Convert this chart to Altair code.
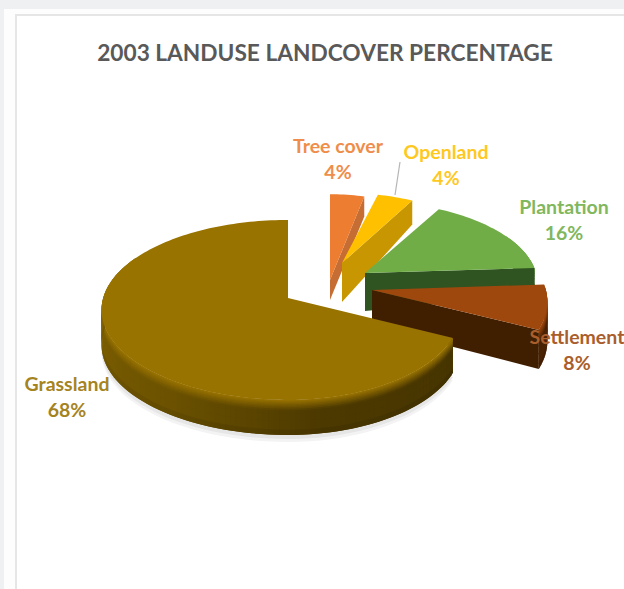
import math
import altair as alt
import pandas as pd

# Land use shares for 2003, listed clockwise from twelve o'clock backwards
CATEGORIES = ["Tree cover", "Openland", "Plantation", "Settlement", "Grassland"]
PERCENTS = [4, 4, 16, 8, 68]
TOP_COLORS = ["#ed7d31", "#ffc000", "#70ad47", "#9e480e", "#997300"]
CUT_COLORS = ["#c56d32", "#c79600", "#2f5321", "#401f00", "#4a3700"]
WALL_COLORS = ["#b55f26", "#b98c00", "#38602a", "#4a2204", "#6a5000"]

TITLE = "2003 LANDUSE LANDCOVER PERCENTAGE"
W, H = 624, 589

# Tilted-disc projection of the pie
RX, RY, PERSPECTIVE = 183.0, 88.4, 0.133

# Exploded position and scale of each wedge
LAYOUT = {
    "Tree cover": dict(ax=330, ay=280, sx=.85, sr=.85, sy=1.10, t=20, t_out=20),
    "Openland": dict(ax=342, ay=263, sx=.90, sr=.89, sy=.90, t=39, t_out=24),
    "Plantation": dict(ax=365, ay=273, sx=.95, sr=.935, sy=.92, t=38, t_out=27),
    "Settlement": dict(ax=372, ay=290, sx=.95, sr=.95, sy=1.0, t=36, t_out=39),
    "Grassland": dict(ax=288, ay=298, sx=1.01, sr=.94, sy=1.0, t=35, t_out=35),
}
LABEL_POS = {
    "Tree cover": (338, 147),
    "Openland": (446, 153),
    "Plantation": (564, 208),
    "Settlement": (577, 338),
    "Grassland": (67, 385),
}
LABEL_LINE_GAP = 26


def hex_rgb(c):
    return tuple(int(c[i:i + 2], 16) for i in (1, 3, 5))


def mix(a, b, f):
    ra, rb = hex_rgb(a), hex_rgb(b)
    return "#%02x%02x%02x" % tuple(round(x + (y - x) * f) for x, y in zip(ra, rb))


def rim(theta, lay):
    s, c = math.sin(math.radians(theta)), math.cos(math.radians(theta))
    w = 1 + PERSPECTIVE * c
    scale = lay["sx"] if s < 0 else lay["sr"]
    return lay["ax"] + RX * scale * s / w, lay["ay"] - RY * lay["sy"] * c / w


polys = []


def add(points, fill):
    polys.append((len(polys), points, fill))


def wall_shade(name, theta, wall):
    # Grassland's outer wall darkens steadily towards the lower right
    if name != "Grassland":
        return wall
    stops = [(115, "#473500"), (170, "#4c3900"), (215, "#6c5200"), (270, "#806100"), (300, "#8a6800")]
    for (t0, c0), (t1, c1) in zip(stops, stops[1:]):
        if theta <= t1:
            return mix(c0, c1, max(0, (theta - t0) / (t1 - t0)))
    return stops[-1][1]


def draw_wedge(name, start, end, top, cut, wall):
    lay = LAYOUT[name]
    step = 1.5
    n = max(2, int(math.ceil((end - start) / step)))
    thetas = [start + (end - start) * i / n for i in range(n + 1)]
    ax, ay, t, t_out = lay["ax"], lay["ay"], lay["t"], lay["t_out"]

    # Bevelled outer wall; each cell overlaps the next so no seams show
    bands = [0, .03, .06, .09, .12, .16, .2, .25, .3, .4, .6, .85, 1]
    visible = [th for th in thetas if 60 <= th <= 300]
    for a, b in zip(visible, visible[1:]):
        base = wall_shade(name, (a + b) / 2, wall)
        far = min(visible[-1], b + step)
        (xa, ya), (xb, yb) = rim(a, lay), rim(far, lay)
        for f0, f1 in zip(bands, bands[1:]):
            blend = min(1, (f0 + f1) / 2 / .3)
            colour = mix(top, base, blend)
            if f0 >= .85:
                colour = mix(base, "#000000", .08)
            low = f1 if f1 == 1 else f1 + .03
            add([(xa, ya + t_out * f0), (xb, yb + t_out * f0),
                 (xb, yb + t_out * low), (xa, ya + t_out * low)], colour)

    # Flat face left by pulling the wedge out of the pie
    if name != "Grassland":
        ox, oy = rim(end, lay)
        add([(ax, ay), (ox, oy), (ox, oy + t_out), (ax, ay + t)], cut)

    # Top surface
    add([(ax, ay)] + [rim(th, lay) for th in thetas], top)


# Page, card and its border
add([(0, 0), (W, 0), (W, H), (0, H)], "#eff0f2")
add([(4, 9), (W, 9), (W, H), (4, H)], "#fdfdfd")
add([(15, 14), (W, 14), (W, H), (15, H)], "#e6e6e6")
add([(17, 16), (W, 16), (W, H), (17, H)], "#ffffff")

# Wedges go back to front, walking the angle from twelve o'clock clockwise
angle = 0.0
spans = {}
for name, pct in zip(CATEGORIES, PERCENTS):
    spans[name] = (angle, angle + pct * 3.6)
    angle += pct * 3.6

# Faint contact shadow below the big wedge is added just before it
for i, name in enumerate(CATEGORIES):
    start, end = spans[name]
    if name == "Grassland":
        lay = LAYOUT[name]
        front = [start + (300 - start) * k / 60 for k in range(61)]
        for off, shade in ((7, "#f3f3f3"), (4, "#e6e6e6")):
            add([(rim(th, lay)[0], rim(th, lay)[1] + lay["t"] + off) for th in front], shade)
    draw_wedge(name, start, end, TOP_COLORS[i], CUT_COLORS[i], WALL_COLORS[i])

rows = []
for pid, points, fill in polys:
    for j, (px, py) in enumerate(points):
        rows.append(dict(pid=pid, i=j, px=round(px, 2), py=round(py, 2), fill=fill))
    px, py = points[0]
    rows.append(dict(pid=pid, i=len(points), px=round(px, 2), py=round(py, 2), fill=fill))
shapes = pd.DataFrame(rows)
alt.data_transformers.disable_max_rows()

x_scale = alt.Scale(domain=[0, W], range=[0, W], nice=False, zero=False)
y_scale = alt.Scale(domain=[0, H], range=[0, H], nice=False, zero=False)

shape_layer = alt.Chart(shapes).mark_line(filled=True, strokeWidth=0, interpolate="linear").encode(
    x=alt.X("px:Q", scale=x_scale, axis=None),
    y=alt.Y("py:Q", scale=y_scale, axis=None),
    detail="pid:N",
    order=alt.Order("i:Q"),
    fill=alt.Fill("fill:N", scale=None, legend=None),
)

# Leader from the Openland label down to its wedge
leader = pd.DataFrame({"px": [395, 400], "py": [195, 162]})
leader_layer = alt.Chart(leader).mark_line(color="#b5b5b5", strokeWidth=1.2).encode(
    x=alt.X("px:Q", scale=x_scale, axis=None),
    y=alt.Y("py:Q", scale=y_scale, axis=None),
)

label_rows = []
for name, pct, colour in zip(CATEGORIES, PERCENTS, TOP_COLORS):
    lx, ly = LABEL_POS[name]
    soft = mix(colour, "#ffffff", .12)
    label_rows.append(dict(px=lx, py=ly, text=name, colour=soft))
    label_rows.append(dict(px=lx, py=ly + LABEL_LINE_GAP, text=f"{pct}%", colour=soft))
label_layer = alt.Chart(pd.DataFrame(label_rows)).mark_text(
    font="Lato", fontWeight="bold", fontSize=19.5, align="center", baseline="middle"
).encode(
    x=alt.X("px:Q", scale=x_scale, axis=None),
    y=alt.Y("py:Q", scale=y_scale, axis=None),
    text="text:N",
    color=alt.Color("colour:N", scale=None, legend=None),
)

title_layer = alt.Chart(pd.DataFrame({"px": [325], "py": [54], "text": [TITLE]})).mark_text(
    font="Lato", fontWeight="bold", fontSize=22.7, color="#595959", align="center", baseline="middle"
).encode(
    x=alt.X("px:Q", scale=x_scale, axis=None),
    y=alt.Y("py:Q", scale=y_scale, axis=None),
    text="text:N",
)

chart = alt.layer(shape_layer, leader_layer, label_layer, title_layer).properties(
    width=W, height=H, padding=0, autosize=alt.AutoSizeParams(type="none"),
    background="#ffffff",
).configure_view(stroke=None)

chart.save("out.html", embed_options={"renderer": "svg", "actions": False})
